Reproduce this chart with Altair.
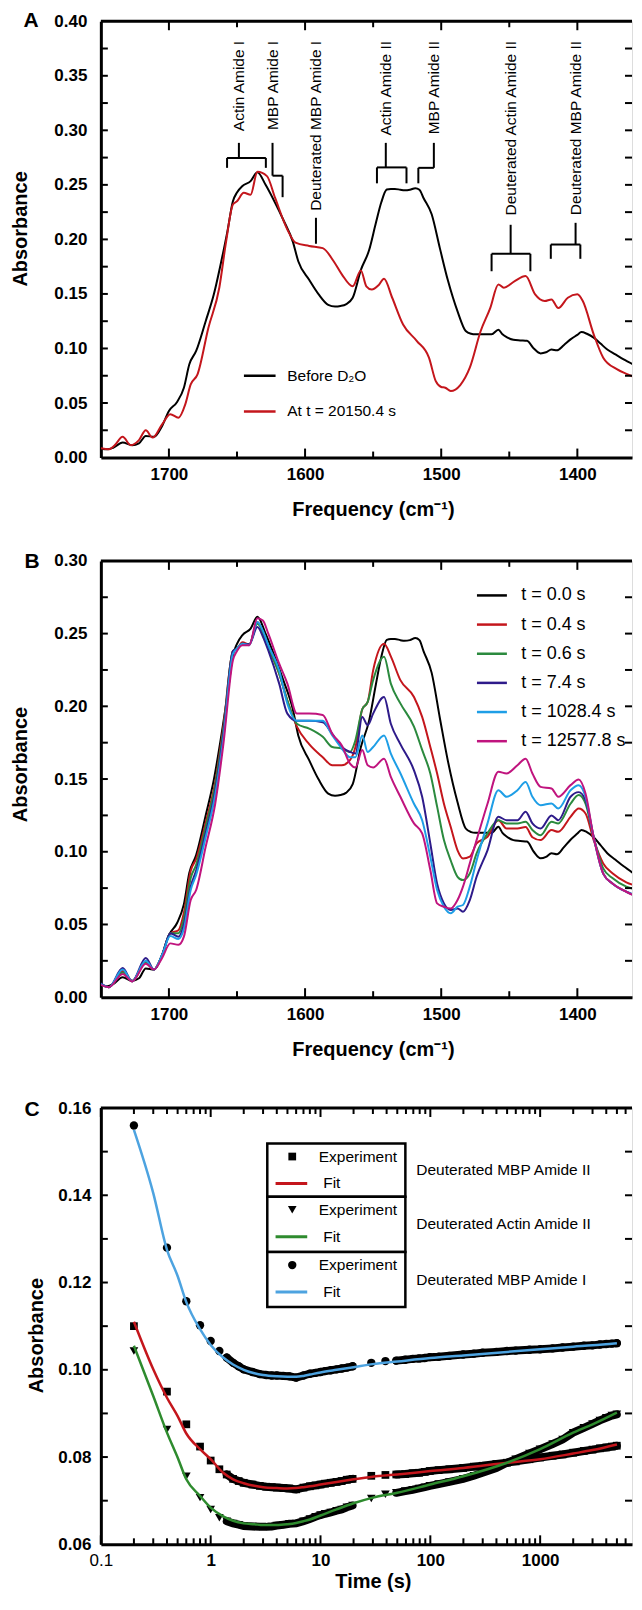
import altair as alt
import pandas as pd

FONT = "Liberation Sans, Arial, Helvetica, sans-serif"
W, H = 532, 437

# ---------------- Panel A data ----------------
a_black_freq = [1750, 1745, 1741, 1734, 1727, 1722, 1717, 1711, 1705, 1700,
                1694, 1689, 1685, 1680, 1673, 1667, 1661, 1657, 1653, 1650,
                1646, 1640, 1635, 1629, 1622, 1616, 1609, 1605, 1597, 1590,
                1583, 1578, 1574, 1570, 1565, 1559, 1553, 1548, 1544, 1540,
                1537, 1534, 1530, 1527, 1523, 1519, 1516, 1513, 1507, 1501,
                1495, 1488, 1482, 1478, 1475, 1469, 1463, 1458, 1455, 1452,
                1447, 1442, 1437, 1432, 1427, 1423, 1419, 1415, 1410, 1405,
                1400, 1397, 1393, 1388, 1383, 1378, 1372, 1366, 1360, 1354]
a_black_abs = [0.008, 0.0075, 0.009, 0.0137, 0.0113, 0.013, 0.0198, 0.019, 0.029, 0.0427,
               0.051, 0.064, 0.0855, 0.0977, 0.125, 0.1496, 0.183, 0.2076, 0.235, 0.243,
               0.249, 0.2534, 0.2616, 0.250, 0.2335, 0.218, 0.198, 0.180, 0.163, 0.1496,
               0.140, 0.1385, 0.139, 0.1405, 0.1465, 0.172, 0.19, 0.215, 0.234, 0.2457,
               0.2463, 0.2463, 0.2455, 0.245, 0.2455, 0.247, 0.2455, 0.238, 0.223, 0.192,
               0.162, 0.134, 0.116, 0.1135, 0.113, 0.113, 0.113, 0.1172, 0.113, 0.1105,
               0.108, 0.1074, 0.107, 0.1, 0.0955, 0.0965, 0.099, 0.0983, 0.103, 0.1083,
               0.1125, 0.115, 0.1135, 0.110, 0.1045, 0.099, 0.0945, 0.090, 0.086, 0.081]

a_red_freq = [1750, 1744, 1740, 1734, 1728, 1722, 1717, 1712, 1705, 1699,
              1693, 1688, 1684, 1679, 1671, 1663, 1658, 1653, 1650, 1645,
              1640, 1635, 1628, 1622, 1613, 1607, 1597, 1587, 1579, 1573,
              1565, 1559, 1555, 1551, 1546, 1542, 1536, 1528, 1518, 1509,
              1504, 1500, 1497, 1493, 1486, 1479, 1471, 1464, 1458, 1454,
              1446, 1438, 1431, 1424, 1419, 1414, 1407, 1400, 1396, 1388,
              1381, 1371, 1363, 1354]
a_red_abs = [0.0085, 0.0076, 0.011, 0.019, 0.0113, 0.016, 0.025, 0.0183, 0.0305, 0.0397,
             0.0366, 0.0488, 0.067, 0.0763, 0.119, 0.1557, 0.198, 0.232, 0.235, 0.2427,
             0.241, 0.262, 0.258, 0.238, 0.209, 0.197, 0.194, 0.192, 0.180, 0.168,
             0.157, 0.1715, 0.157, 0.154, 0.158, 0.164, 0.1465, 0.122, 0.107, 0.0916,
             0.070, 0.0647, 0.064, 0.061, 0.0665, 0.0824, 0.116, 0.137, 0.1587, 0.1557,
             0.1618, 0.1664, 0.1496, 0.1435, 0.145, 0.137, 0.1465, 0.1496, 0.1435, 0.113,
             0.0916, 0.081, 0.0763, 0.0717]

a_legend_labels = ["Before D\u2082O", "At t = 20150.4 s"]
a_colors = ["#000000", "#c4161c"]

ann_labels = ["Actin Amide I", "MBP Amide I", "Deuterated MBP Amide I", "Actin Amide II",
              "MBP Amide II", "Deuterated Actin Amide II", "Deuterated MBP Amide II"]
ann_freq = [1648.6, 1623.9, 1592.0, 1540.7, 1505.4, 1449.0, 1401.3]
ann_top = 0.382
# bracket segments (frequency, absorbance) -> (frequency, absorbance)
br_x1 = [1648.6, 1657.3, 1657.3, 1628.8, 1623.9, 1623.9, 1616.5, 1592.0,
         1540.7, 1547.2, 1547.2, 1525.5, 1505.4, 1505.4, 1516.8,
         1449.0, 1463.0, 1463.0, 1434.5, 1401.3, 1419.5, 1419.5, 1397.8]
br_y1 = [0.2885, 0.2747, 0.2747, 0.2747, 0.2885, 0.2584, 0.2584, 0.2198,
         0.2885, 0.2660, 0.2660, 0.2660, 0.2885, 0.2656, 0.2656,
         0.2134, 0.1868, 0.1868, 0.1868, 0.2152, 0.1953, 0.1953, 0.1953]
br_x2 = [1648.6, 1628.8, 1657.3, 1628.8, 1623.9, 1616.5, 1616.5, 1592.0,
         1540.7, 1525.5, 1547.2, 1525.5, 1505.4, 1516.8, 1516.8,
         1449.0, 1434.5, 1463.0, 1434.5, 1401.3, 1397.8, 1419.5, 1397.8]
br_y2 = [0.2747, 0.2747, 0.2656, 0.2656, 0.2584, 0.2584, 0.2387, 0.1960,
         0.2660, 0.2660, 0.2514, 0.2514, 0.2656, 0.2656, 0.2514,
         0.1868, 0.1868, 0.1708, 0.1708, 0.1953, 0.1953, 0.1822, 0.1822]

# ---------------- Panel B data ----------------
b_freq = [1750, 1744, 1734, 1727, 1717, 1711, 1705, 1699, 1693, 1689,
          1684, 1680, 1673, 1666, 1660, 1653, 1650, 1646, 1641, 1635,
          1631, 1627, 1619, 1613, 1606, 1597, 1587, 1580, 1573, 1567,
          1563, 1558, 1554, 1550, 1542, 1537, 1530, 1520, 1514, 1508,
          1503, 1498, 1493, 1488, 1484, 1479, 1474, 1466, 1458, 1452,
          1444, 1438, 1433, 1427, 1419, 1414, 1405, 1399, 1394, 1388,
          1381, 1374, 1364, 1354]
b_t04 = [0.009, 0.0069, 0.018, 0.011, 0.024, 0.019, 0.029, 0.044, 0.046, 0.058,
         0.087, 0.095, 0.12, 0.148, 0.186, 0.238, 0.2396, 0.244, 0.2426, 0.258,
         0.251, 0.2407, 0.2224, 0.204, 0.186, 0.174, 0.165, 0.1595, 0.1595, 0.163,
         0.172, 0.198, 0.203, 0.2247, 0.243, 0.2343, 0.218, 0.2064, 0.1927, 0.172,
         0.1538, 0.133, 0.117, 0.101, 0.0954, 0.0966, 0.1057, 0.1103, 0.1217, 0.116,
         0.116, 0.117, 0.110, 0.108, 0.1149, 0.1137, 0.124, 0.1297, 0.1263, 0.108,
         0.092, 0.085, 0.079, 0.076]
b_t06 = [0.009, 0.0069, 0.017, 0.011, 0.024, 0.019, 0.029, 0.044, 0.044, 0.054,
         0.082, 0.091, 0.117, 0.146, 0.184, 0.238, 0.2396, 0.243, 0.2426, 0.2567,
         0.251, 0.2407, 0.2224, 0.204, 0.188, 0.1847, 0.179, 0.172, 0.171, 0.1686,
         0.1767, 0.198, 0.203, 0.218, 0.234, 0.2156, 0.202, 0.186, 0.170, 0.1538,
         0.131, 0.108, 0.094, 0.0828, 0.0805, 0.085, 0.0989, 0.1126, 0.1217, 0.1195,
         0.1195, 0.1206, 0.115, 0.1114, 0.1206, 0.1195, 0.133, 0.139, 0.133, 0.110,
         0.0886, 0.0817, 0.076, 0.0737]
b_t74 = [0.0096, 0.0069, 0.020, 0.011, 0.027, 0.019, 0.029, 0.044, 0.0416, 0.050,
         0.076, 0.087, 0.113, 0.142, 0.181, 0.238, 0.2396, 0.243, 0.2426, 0.2545,
         0.248, 0.2384, 0.2156, 0.195, 0.190, 0.190, 0.189, 0.181, 0.172, 0.1686,
         0.1675, 0.1927, 0.187, 0.195, 0.2064, 0.188, 0.174, 0.156, 0.1378, 0.1057,
         0.078, 0.0645, 0.060, 0.061, 0.0588, 0.0668, 0.0828, 0.101, 0.124, 0.1217,
         0.1217, 0.1275, 0.1195, 0.116, 0.125, 0.1217, 0.1378, 0.141, 0.1355, 0.110,
         0.085, 0.078, 0.0725, 0.069]
b_t10284 = [0.009, 0.0069, 0.019, 0.011, 0.025, 0.019, 0.029, 0.042, 0.040, 0.047,
            0.0737, 0.084, 0.11, 0.139, 0.178, 0.236, 0.2396, 0.243, 0.242, 0.258,
            0.252, 0.242, 0.2247, 0.2018, 0.190, 0.190, 0.190, 0.180, 0.171, 0.165,
            0.165, 0.180, 0.1686, 0.172, 0.180, 0.1675, 0.154, 0.133, 0.1217, 0.0966,
            0.0737, 0.0622, 0.0577, 0.0622, 0.0634, 0.076, 0.094, 0.1195, 0.1423, 0.1378,
            0.1423, 0.148, 0.1378, 0.132, 0.1332, 0.1297, 0.1423, 0.1458, 0.1378, 0.110,
            0.085, 0.078, 0.0725, 0.069]
b_t125778 = [0.0085, 0.0069, 0.016, 0.0108, 0.023, 0.019, 0.027, 0.037, 0.036, 0.0416,
             0.0668, 0.0737, 0.1034, 0.133, 0.174, 0.2316, 0.238, 0.242, 0.242, 0.2606,
             0.259, 0.25, 0.2293, 0.2156, 0.195, 0.195, 0.194, 0.181, 0.173, 0.1606,
             0.158, 0.170, 0.1595, 0.158, 0.164, 0.1515, 0.1378, 0.1195, 0.1126, 0.0874,
             0.0645, 0.0622, 0.061, 0.0668, 0.076, 0.092, 0.108, 0.133, 0.155, 0.1538,
             0.1595, 0.164, 0.1538, 0.1446, 0.1435, 0.1378, 0.1458, 0.1497, 0.140, 0.110,
             0.085, 0.078, 0.0725, 0.068]
b_labels = ["t = 0.0 s", "t = 0.4 s", "t = 0.6 s", "t = 7.4 s", "t = 1028.4 s", "t = 12577.8 s"]
b_colors = ["#000000", "#c4161c", "#2b8a3e", "#2e1b8a", "#1e9ee6", "#c0147e"]

# ---------------- Panel C data ----------------
c_time = [0.2, 0.4, 0.6, 0.8, 1.0, 1.2, 1.4, 1.6, 1.8, 2.0, 2.4, 2.8, 3.2, 3.6, 4.0,
          4.6, 5.2, 6.0, 7.0, 8.0, 9.0, 10.0, 11.0, 12.4, 14.0, 15.6, 17.4, 19.6,
          29, 39, 49, 59, 69, 79, 89, 99, 119, 149, 199, 249, 299, 399, 499, 599,
          799, 999, 1299, 1599, 1999, 2499, 2999, 3499, 3999, 4499, 4989]
c_mbp2 = [0.110, 0.095, 0.0875, 0.0824, 0.0792, 0.0772, 0.076, 0.075, 0.0745, 0.0741,
          0.0737, 0.0734, 0.0732, 0.0731, 0.073, 0.0729, 0.0728, 0.0726, 0.073, 0.0733,
          0.0735, 0.0737, 0.0739, 0.0741, 0.0743, 0.0745, 0.0748, 0.075,
          0.0757, 0.0759, 0.076, 0.0761, 0.0763, 0.0764, 0.0766, 0.0768, 0.0770, 0.0772,
          0.0775, 0.0778, 0.078, 0.0784, 0.0787, 0.079, 0.0795, 0.0799, 0.0803, 0.0806,
          0.081, 0.0814, 0.0817, 0.082, 0.0822, 0.0824, 0.0826]
c_actin2 = [0.1043, 0.0863, 0.0756, 0.0707, 0.068, 0.0661, 0.0653, 0.0648, 0.0645, 0.0642,
            0.0641, 0.064, 0.064, 0.0641, 0.0643, 0.0645, 0.0647, 0.0648, 0.0653, 0.0658,
            0.0663, 0.0667, 0.0670, 0.0673, 0.0677, 0.068, 0.0685, 0.0689,
            0.0705, 0.0715, 0.0718, 0.0722, 0.0725, 0.0728, 0.0731, 0.0734, 0.0738, 0.0743,
            0.0750, 0.0757, 0.0764, 0.0775, 0.0787, 0.0795, 0.0808, 0.0818, 0.083, 0.084,
            0.0856, 0.0867, 0.0876, 0.0884, 0.089, 0.0895, 0.0898]
c_mbp1 = [0.156, 0.128, 0.1157, 0.1102, 0.1066, 0.1043, 0.1028, 0.1016, 0.1008, 0.1001,
          0.0995, 0.0990, 0.0988, 0.0987, 0.0987, 0.0986, 0.0985, 0.0982, 0.0987, 0.0991,
          0.0993, 0.0995, 0.0997, 0.0999, 0.1001, 0.1003, 0.1005, 0.1008,
          0.1016, 0.102, 0.1021, 0.1023, 0.1025, 0.1026, 0.1027, 0.1029, 0.1030, 0.1032,
          0.1035, 0.1037, 0.1039, 0.1041, 0.1043, 0.1044, 0.1046, 0.1047, 0.1049, 0.1051,
          0.1053, 0.1055, 0.1056, 0.1058, 0.1059, 0.106, 0.1061]

fit_time = [0.2, 0.3, 0.4, 0.5, 0.6, 0.8, 1.0, 1.3, 1.6, 2.0, 2.5, 3.0, 4.0, 5.0, 6.0,
            7.0, 8.0, 10, 14, 20, 30, 50, 100, 200, 500, 1000, 2000, 3000, 5000]
fit_mbp2 = [0.111, 0.1001, 0.0936, 0.0894, 0.0854, 0.0818, 0.0795, 0.0764, 0.0749, 0.074,
            0.0734, 0.0731, 0.0729, 0.0728, 0.0729, 0.0731, 0.0733, 0.0737, 0.0743, 0.0749,
            0.0755, 0.076, 0.0768, 0.0775, 0.0787, 0.0795, 0.0808, 0.0816, 0.0829]
fit_actin2 = [0.1055, 0.094, 0.0856, 0.0799, 0.0749, 0.0711, 0.0684, 0.0664, 0.0654, 0.0648,
              0.0646, 0.0644, 0.0644, 0.0646, 0.0649, 0.0653, 0.0657, 0.0666, 0.068, 0.0694,
              0.0707, 0.0718, 0.0737, 0.0756, 0.0787, 0.0818, 0.0856, 0.0875, 0.0902]
fit_mbp1 = [0.155, 0.1405, 0.1275, 0.1215, 0.1155, 0.1093, 0.1057, 0.1028, 0.1012, 0.1000,
            0.0992, 0.0988, 0.0985, 0.0984, 0.0984, 0.0986, 0.0989, 0.0994, 0.1000, 0.1006,
            0.1013, 0.1019, 0.1027, 0.1033, 0.1041, 0.1047, 0.1053, 0.1056, 0.1061]

c_names = ["Deuterated MBP Amide II", "Deuterated Actin Amide II", "Deuterated MBP Amide I"]
c_shapes = ["square", "triangle-down", "circle"]
c_sizes = [60, 75, 70]
c_fit_colors = ["#c4161c", "#2e8b2e", "#4da3e0"]

# ---------------- axis tick lists ----------------
ab_x_labels = [1700, 1600, 1500, 1400]
ab_x_minor = [1650, 1550, 1450]
a_y_labels = [0.0, 0.05, 0.10, 0.15, 0.20, 0.25, 0.30, 0.35, 0.40]
a_y_ticks = [0.025, 0.05, 0.075, 0.1, 0.125, 0.15, 0.175, 0.2, 0.225, 0.25, 0.275, 0.3, 0.325, 0.35, 0.375]
b_y_labels = [0.0, 0.05, 0.10, 0.15, 0.20, 0.25, 0.30]
b_y_ticks = [0.025, 0.05, 0.075, 0.1, 0.125, 0.15, 0.175, 0.2, 0.225, 0.25, 0.275]
c_x_labels = [0.1, 1, 10, 100, 1000]
c_x_minor = [0.2, 0.3, 0.4, 0.5, 0.6, 0.7, 0.8, 0.9, 2, 3, 4, 5, 6, 7, 8, 9,
             20, 30, 40, 50, 60, 70, 80, 90, 200, 300, 400, 500, 600, 700, 800, 900,
             2000, 3000, 4000, 5000, 6000]
c_y_labels = [0.06, 0.08, 0.10, 0.12, 0.14, 0.16]
c_y_ticks = [0.07, 0.08, 0.09, 0.10, 0.11, 0.12, 0.13, 0.14, 0.15]

# ---------------- scales ----------------
x_ab = alt.Scale(domain=[1750 - W / 1.3636, 1750], reverse=True, nice=False, zero=False)
y_a = alt.Scale(domain=[0, 0.4], nice=False, zero=False)
y_b = alt.Scale(domain=[0, 0.3], nice=False, zero=False)
x_c = alt.Scale(type="log", domain=[0.1, 10 ** (W / 110 - 1)], nice=False)
y_c = alt.Scale(domain=[0.06, 0.16], nice=False, zero=False)

ONE = pd.DataFrame({"k": [0]})


def x_axis(values, fmt, pad, weight="bold"):
    return alt.Axis(values=values, format=fmt, ticks=False, tickSize=0, grid=False,
                    domain=True, domainColor="black", domainWidth=3,
                    labelFont=FONT, labelFontSize=17, labelFontWeight=weight,
                    labelColor="black", labelPadding=pad, labelFlush=False, labelOverlap=False,
                    title=None)


def y_axis(values, fmt, pad):
    return alt.Axis(values=values, format=fmt, ticks=False, tickSize=0, grid=False,
                    domain=True, domainColor="black", domainWidth=3,
                    labelFont=FONT, labelFontSize=17, labelFontWeight="bold",
                    labelColor="black", labelPadding=pad, labelOverlap=False, title=None)


def frame_layers(xf, xs, xax, yf, ys, yax, xmaj, xmin, yt):
    out = [alt.Chart(ONE).mark_rule(color="black", strokeWidth=3).encode(
        x=alt.value(0), x2=alt.value(W), y=alt.value(0))]
    for vals, ln in ((xmaj, 9), (xmin, 6)):
        df = pd.DataFrame({xf: vals})
        ex = alt.X(f"{xf}:Q", scale=xs, axis=xax)
        out.append(alt.Chart(df).mark_rule(color="black", strokeWidth=2).encode(
            x=ex, y=alt.value(H - ln), y2=alt.value(H)))
        out.append(alt.Chart(df).mark_rule(color="black", strokeWidth=2).encode(
            x=ex, y=alt.value(0), y2=alt.value(ln)))
    dfy = pd.DataFrame({yf: yt})
    ey = alt.Y(f"{yf}:Q", scale=ys, axis=yax)
    out.append(alt.Chart(dfy).mark_rule(color="black", strokeWidth=2).encode(
        y=ey, x=alt.value(0), x2=alt.value(7)))
    out.append(alt.Chart(dfy).mark_rule(color="black", strokeWidth=2).encode(
        y=ey, x=alt.value(W - 7), x2=alt.value(W)))
    return out


def text_at(t, x, y, size, bold=True, angle=0, align="center", baseline="alphabetic"):
    kw = dict(align=align, baseline=baseline, font=FONT, fontSize=size,
              fontWeight="bold" if bold else "normal", color="black")
    if angle:
        kw["angle"] = angle
    return alt.Chart(pd.DataFrame({"t": [t]})).mark_text(**kw).encode(
        text="t:N", x=alt.value(x), y=alt.value(y))


def legend_entry(label, color, lx1, lx2, tx, y, fs, sw=2.5):
    d = pd.DataFrame({"label": [label]})
    return [
        alt.Chart(d).mark_rule(color=color, strokeWidth=sw).encode(
            x=alt.value(lx1), x2=alt.value(lx2), y=alt.value(y)),
        alt.Chart(d).mark_text(align="left", baseline="middle", font=FONT, fontSize=fs,
                               color="black").encode(text="label:N", x=alt.value(tx), y=alt.value(y)),
    ]


FREQ_TITLE = "Frequency (cm\u207b\u00b9)"

# ---------------- Panel A ----------------
xax_a = x_axis(ab_x_labels, "d", 9)
yax_a = y_axis(a_y_labels, ".2f", 14)
XA = lambda: alt.X("freq:Q", scale=x_ab, axis=xax_a)
YA = lambda: alt.Y("abs:Q", scale=y_a, axis=yax_a)

la = []
df_ab = pd.DataFrame({"freq": a_black_freq, "abs": a_black_abs})
df_ar = pd.DataFrame({"freq": a_red_freq, "abs": a_red_abs})
la.append(alt.Chart(df_ab).mark_line(color=a_colors[0], strokeWidth=2, clip=True,
                                     interpolate="monotone").encode(x=XA(), y=YA()))
la.append(alt.Chart(df_ar).mark_line(color=a_colors[1], strokeWidth=2, clip=True,
                                     interpolate="monotone").encode(x=XA(), y=YA()))
df_br = pd.DataFrame({"freq": br_x1, "abs": br_y1, "freq2": br_x2, "abs2": br_y2})
la.append(alt.Chart(df_br).mark_rule(color="black", strokeWidth=2).encode(
    x=XA(), y=YA(), x2="freq2:Q", y2="abs2:Q"))
df_ann = pd.DataFrame({"label": ann_labels, "freq": ann_freq, "abs": [ann_top] * len(ann_labels)})
la.append(alt.Chart(df_ann).mark_text(angle=270, align="right", baseline="middle", font=FONT,
                                      fontSize=15.5, color="black").encode(
    x=XA(), y=YA(), text="label:N"))
for i, (lab, col) in enumerate(zip(a_legend_labels, a_colors)):
    la += legend_entry(lab, col, 143.3, 175, 186.7, 355.1 + 35.7 * i, 15.5)
la += frame_layers("freq", x_ab, xax_a, "abs", y_a, yax_a, ab_x_labels, ab_x_minor, a_y_ticks)
la.append(text_at("A", -77.5, 6, 21, align="left"))
la.append(text_at("Absorbance", -80, 208, 20, angle=270, baseline="middle"))
la.append(text_at(FREQ_TITLE, 273, H + 58.5, 20))
panel_a = alt.layer(*la).properties(width=W, height=H)

# ---------------- Panel B ----------------
xax_b = x_axis(ab_x_labels, "d", 9)
yax_b = y_axis(b_y_labels, ".2f", 14)
lb = []
b_series = [(a_black_freq, a_black_abs), (b_freq, b_t04), (b_freq, b_t06), (b_freq, b_t74),
            (b_freq, b_t10284), (b_freq, b_t125778)]
for (fq, ab), col in zip(b_series, b_colors):
    d = pd.DataFrame({"freq": fq, "abs": ab})
    lb.append(alt.Chart(d).mark_line(color=col, strokeWidth=2, clip=True, interpolate="monotone").encode(
        x=alt.X("freq:Q", scale=x_ab, axis=xax_b), y=alt.Y("abs:Q", scale=y_b, axis=yax_b)))
for i, (lab, col) in enumerate(zip(b_labels, b_colors)):
    lb += legend_entry(lab, col, 376.7, 406.7, 421, 34.6 + 29.2 * i, 18)
lb += frame_layers("freq", x_ab, xax_b, "abs", y_b, yax_b, ab_x_labels, ab_x_minor, b_y_ticks)
lb.append(text_at("B", -76.5, 7, 21, align="left"))
lb.append(text_at("Absorbance", -80, 204, 20, angle=270, baseline="middle"))
lb.append(text_at(FREQ_TITLE, 273, H + 58.5, 20))
panel_b = alt.layer(*lb).properties(width=W, height=H)

# ---------------- Panel C ----------------
xax_c = alt.Axis(
    values=c_x_labels, format="~g", ticks=False, tickSize=0, grid=False,
    domain=True, domainColor="black", domainWidth=3, labelFont=FONT, labelFontSize=17,
    labelFontWeight={"expr": "datum.value < 0.5 ? 'normal' : 'bold'"},
    labelColor="black", labelPadding=8, labelFlush=False, labelOverlap=False, title=None)
yax_c = y_axis(c_y_labels, ".2f", 10)
XC = lambda: alt.X("time:Q", scale=x_c, axis=xax_c)
YC = lambda: alt.Y("absv:Q", scale=y_c, axis=yax_c)

lc = []
c_vals = [c_mbp2, c_actin2, c_mbp1]
fit_vals = [fit_mbp2, fit_actin2, fit_mbp1]
for vals in c_vals:
    d = pd.DataFrame({"time": c_time, "absv": vals})
    d["seg"] = ["a" if 1.4 <= t <= 19.6 else ("b" if t >= 49 else "none") for t in c_time]
    d = d[d["seg"] != "none"]
    lc.append(alt.Chart(d).mark_line(color="black", strokeWidth=8, strokeCap="round").encode(
        x=XC(), y=YC(), detail="seg:N"))
for vals, shp, sz in zip(c_vals, c_shapes, c_sizes):
    d = pd.DataFrame({"time": c_time, "absv": vals})
    lc.append(alt.Chart(d).mark_point(shape=shp, filled=True, size=sz, color="black", opacity=1).encode(
        x=XC(), y=YC()))
for vals, col in zip(fit_vals, c_fit_colors):
    d = pd.DataFrame({"time": fit_time, "absv": vals})
    lc.append(alt.Chart(d).mark_line(color=col, strokeWidth=2.5, interpolate="monotone").encode(
        x=XC(), y=YC()))
box_tops = [35.6, 89.0, 144.3]
box_bots = [89.0, 144.3, 199.3]
for i, (name, shp, col) in enumerate(zip(c_names, c_shapes, c_fit_colors)):
    d = pd.DataFrame({"label": [name]})
    lc.append(alt.Chart(d).mark_rect(fill="white", stroke="black", strokeWidth=2.5).encode(
        x=alt.value(166.7), x2=alt.value(305), y=alt.value(box_tops[i]), y2=alt.value(box_bots[i])))
    ye = box_tops[i] + 13
    yf = box_tops[i] + 40
    lc.append(alt.Chart(d).mark_point(shape=shp, filled=True, size=c_sizes[i], color="black", opacity=1).encode(
        x=alt.value(191.7), y=alt.value(ye)))
    lc.append(alt.Chart(pd.DataFrame({"label": ["Experiment"]})).mark_text(
        align="left", baseline="middle", font=FONT, fontSize=15.5, color="black").encode(
        text="label:N", x=alt.value(218.3), y=alt.value(ye)))
    lc += legend_entry("Fit", col, 175, 206.7, 222.7, yf, 15.5, sw=3)
    lc.append(alt.Chart(d).mark_text(align="left", baseline="middle", font=FONT, fontSize=15.5,
                                     color="black").encode(
        text="label:N", x=alt.value(316), y=alt.value((box_tops[i] + box_bots[i]) / 2)))
lc += frame_layers("time", x_c, xax_c, "absv", y_c, yax_c, c_x_labels, c_x_minor, c_y_ticks)
lc.append(text_at("C", -76.5, 8, 21, align="left"))
lc.append(text_at("Absorbance", -64, 228, 20, angle=270, baseline="middle"))
lc.append(text_at("Time (s)", 273, H + 44, 20))
panel_c = alt.layer(*lc).properties(width=W, height=H)

chart = alt.vconcat(
    panel_a,
    alt.vconcat(panel_b, panel_c, spacing=111, bounds="flush"),
    spacing=103.5, bounds="flush",
).properties(
    padding={"left": 2, "top": 0, "right": 0, "bottom": 0}
).configure_view(stroke=None).configure(font=FONT)

chart.save("out.html", embed_options={"renderer": "svg", "actions": False})
